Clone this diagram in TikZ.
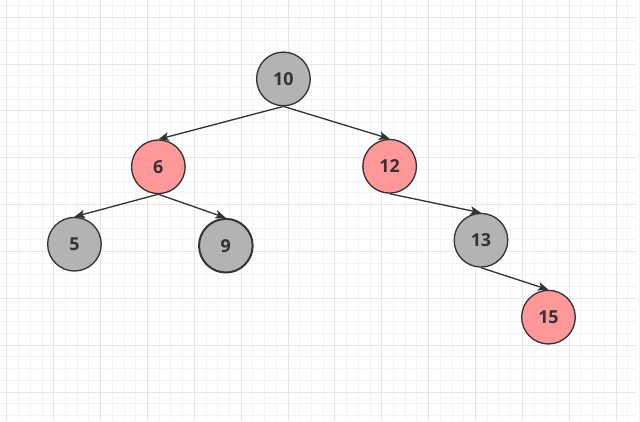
\documentclass[tikz,border=0pt]{standalone}
\usepackage{fontspec}
\setmainfont{Open Sans}
\usepackage{xcolor}
\usepackage{tikz}
\usetikzlibrary{arrows.meta, positioning}

\definecolor{nodegray}{HTML}{B3B3B3}
\definecolor{nodered}{HTML}{FF9999}
\definecolor{inkdark}{HTML}{333333}
\definecolor{gridminor}{HTML}{F3F3F3}
\definecolor{gridmajor}{HTML}{E6E6E6}

\begin{document}
\begin{tikzpicture}[
  x=0.75pt, y=-0.75pt,
  key/.style={circle, draw=inkdark, line width=1pt, minimum size=40.5pt, inner sep=0pt,
    text=inkdark, font=\fontsize{13.5}{15}\selectfont\bfseries},
  black node/.style={key, fill=nodegray},
  red node/.style={key, fill=nodered},
  link/.style={-{Stealth[length=8pt, width=6.5pt, inset=2pt]}, draw=inkdark, line width=1pt}
]
  % background grid
  \fill[white] (0,0) rectangle (640,424);
  \foreach \i in {0,...,54} {
    \draw[gridminor, line width=0.75pt] (6.5+11.8*\i,0) -- (6.5+11.8*\i,424);
  }
  \foreach \i in {0,...,35} {
    \draw[gridminor, line width=0.75pt] (0,5+11.8*\i) -- (640,5+11.8*\i);
  }
  \foreach \i in {0,...,13} {
    \draw[gridmajor, line width=0.75pt] (6.5+47.2*\i,0) -- (6.5+47.2*\i,424);
  }
  \foreach \i in {0,...,8} {
    \draw[gridmajor, line width=0.75pt] (0,16.8+47.2*\i) -- (640,16.8+47.2*\i);
  }
  \useasboundingbox (0,0) rectangle (640,424);

  % tree
  \node[black node] (n10) at (285,79) {10};
  \node[red node] (n6) at (159,167.5) {6};
  \node[red node] (n12) at (392,167) {12};
  \node[black node] (n5) at (74.5,245.5) {5};
  \node[black node, line width=1.5pt] (n9) at (227,247) {9};
  \node[black node] (n13) at (484,241.5) {13};
  \node[red node] (n15) at (552,319) {15};

  \draw[link] (n10.south) -- (n6.north);
  \draw[link] (n10.south) -- (n12.north);
  \draw[link] (n6.south) -- (n5.north);
  \draw[link] (n6.south) -- (n9.north);
  \draw[link] (n12.south) -- (n13.north);
  \draw[link] (n13.south) -- (n15.north);
\end{tikzpicture}
\end{document}
